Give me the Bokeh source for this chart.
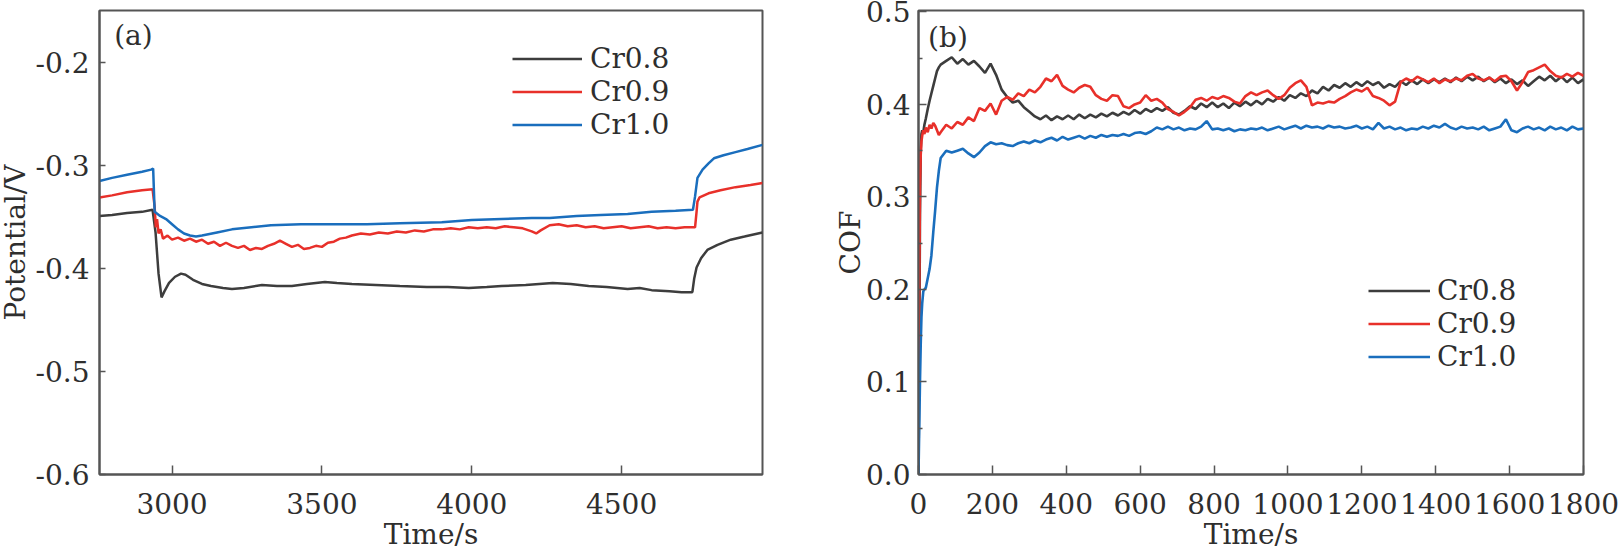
from bokeh.plotting import figure
from bokeh.models import Range1d, FixedTicker, Legend, LegendItem, Label
from bokeh.layouts import row
from bokeh.embed import file_html
from bokeh.resources import INLINE

# ---------------- data : panel (a) open-circuit potential ----------------
series_names = ["Cr0.8", "Cr0.9", "Cr1.0"]

a_cr08_t = [2758, 2800, 2850, 2900, 2935, 2945, 2955, 2965, 2975, 2990,
            3010, 3030, 3045, 3070, 3100, 3130, 3170, 3200, 3240, 3300,
            3350, 3400, 3450, 3510, 3550, 3600, 3680, 3760, 3850, 3920,
            3990, 4050, 4100, 4180, 4270, 4330, 4390, 4450, 4520, 4560,
            4600, 4660, 4700, 4736, 4742, 4750, 4765, 4786, 4820, 4864, 4910, 4970]
a_cr08_v = [-0.349, -0.348, -0.346, -0.345, -0.343, -0.365, -0.405, -0.428, -0.422, -0.414,
            -0.408, -0.405, -0.406, -0.411, -0.415, -0.417, -0.419, -0.420, -0.419, -0.416,
            -0.417, -0.417, -0.415, -0.413, -0.414, -0.415, -0.416, -0.417, -0.418, -0.418,
            -0.419, -0.418, -0.417, -0.416, -0.414, -0.415, -0.417, -0.418, -0.420, -0.419,
            -0.421, -0.422, -0.423, -0.423, -0.410, -0.399, -0.390, -0.382, -0.377, -0.372, -0.369, -0.365]

a_cr09_t = [2758, 2800, 2850, 2900, 2935, 2942, 2946, 2950, 2955, 2962,
            2970, 2985, 3000, 3020, 3040, 3060, 3080, 3100, 3120, 3140,
            3160, 3180, 3200, 3220, 3240, 3260, 3280, 3300, 3320, 3340,
            3360, 3380, 3400, 3420, 3440, 3460, 3480, 3500, 3520, 3540,
            3560, 3580, 3600, 3630, 3660, 3690, 3720, 3750, 3780, 3810,
            3840, 3870, 3900, 3930, 3960, 3990, 4020, 4050, 4080, 4110,
            4140, 4170, 4200, 4215, 4230, 4260, 4290, 4320, 4350, 4380,
            4410, 4440, 4470, 4500, 4530, 4560, 4590, 4620, 4650, 4680,
            4710, 4745, 4750, 4753, 4760, 4790, 4830, 4880, 4930, 4970]
a_cr09_v = [-0.331, -0.329, -0.326, -0.324, -0.323, -0.340, -0.360, -0.352, -0.366, -0.362,
            -0.371, -0.368, -0.372, -0.370, -0.373, -0.371, -0.374, -0.372, -0.376, -0.374,
            -0.378, -0.375, -0.378, -0.380, -0.378, -0.382, -0.380, -0.381, -0.378, -0.376,
            -0.373, -0.376, -0.379, -0.377, -0.381, -0.380, -0.378, -0.379, -0.375, -0.374,
            -0.371, -0.370, -0.368, -0.366, -0.367, -0.365, -0.366, -0.364, -0.365, -0.363,
            -0.364, -0.362, -0.362, -0.361, -0.362, -0.360, -0.361, -0.360, -0.361, -0.359,
            -0.360, -0.361, -0.364, -0.366, -0.363, -0.358, -0.357, -0.359, -0.358, -0.360,
            -0.359, -0.361, -0.360, -0.359, -0.361, -0.360, -0.359, -0.361, -0.360, -0.361,
            -0.360, -0.360, -0.345, -0.335, -0.331, -0.327, -0.324, -0.321, -0.319, -0.317]

a_cr10_t = [2758, 2800, 2850, 2900, 2930, 2937, 2942, 2960, 2980, 3000,
            3020, 3040, 3060, 3080, 3100, 3150, 3200, 3265, 3330, 3430,
            3550, 3650, 3760, 3900, 4000, 4100, 4200, 4260, 4350, 4430,
            4520, 4600, 4680, 4738, 4745, 4753, 4770, 4790, 4808, 4840,
            4880, 4920, 4970]
a_cr10_v = [-0.315, -0.312, -0.309, -0.306, -0.304, -0.303, -0.345, -0.349, -0.352, -0.357,
            -0.362, -0.366, -0.368, -0.369, -0.368, -0.365, -0.362, -0.360, -0.358, -0.357,
            -0.357, -0.357, -0.356, -0.355, -0.353, -0.352, -0.351, -0.351, -0.349, -0.348,
            -0.347, -0.345, -0.344, -0.343, -0.330, -0.312, -0.304, -0.298, -0.293, -0.290,
            -0.287, -0.284, -0.280]

a_xticks = [3000, 3500, 4000, 4500]
a_xtick_labels = ["3000", "3500", "4000", "4500"]
a_yticks = [-0.6, -0.5, -0.4, -0.3, -0.2]
a_ytick_labels = ["-0.6", "-0.5", "-0.4", "-0.3", "-0.2"]
a_xtitle = "Time/s"
a_ytitle = "Potential/V"

# ---------------- data : panel (b) coefficient of friction ----------------
b_t = [0, 2, 4, 6, 8, 10, 13, 16, 20, 25, 30, 35, 40, 45, 50, 55, 60,
       75, 90, 105, 120, 135, 150, 165, 180, 195, 210,
       225, 240, 255, 270, 285, 300, 315, 330, 345, 360,
       375, 390, 405, 420, 435, 450, 465, 480, 495, 510,
       525, 540, 555, 570, 585, 600, 615, 630, 645, 660,
       675, 690, 705, 720, 735, 750, 765, 780, 795, 810,
       825, 840, 855, 870, 885, 900, 915, 930, 945, 960,
       975, 990, 1005, 1020, 1035, 1050, 1065, 1080, 1095, 1110,
       1125, 1140, 1155, 1170, 1185, 1200, 1215, 1230, 1245, 1260,
       1275, 1290, 1305, 1320, 1335, 1350, 1365, 1380, 1395, 1410,
       1425, 1440, 1455, 1470, 1485, 1500, 1515, 1530, 1545, 1560,
       1575, 1590, 1605, 1620, 1635, 1650, 1665, 1680, 1695, 1710,
       1725, 1740, 1755, 1770, 1785, 1800]

b_cr08 = [0.0, 0.12, 0.28, 0.35, 0.368, 0.372, 0.370, 0.378, 0.385, 0.395, 0.404, 0.412, 0.420, 0.428, 0.436, 0.440, 0.443,
          0.447, 0.451, 0.444, 0.449, 0.443, 0.447, 0.441, 0.434, 0.444, 0.432,
          0.416, 0.408, 0.402, 0.404, 0.397, 0.392, 0.387, 0.384, 0.388, 0.383,
          0.387, 0.384, 0.388, 0.384, 0.389, 0.385, 0.389, 0.386, 0.390, 0.387,
          0.391, 0.388, 0.392, 0.389, 0.394, 0.390, 0.395, 0.392, 0.396, 0.393,
          0.397, 0.391, 0.389, 0.393, 0.398, 0.395, 0.401, 0.397, 0.402, 0.397,
          0.401, 0.396, 0.402, 0.398, 0.403, 0.399, 0.404, 0.400, 0.406, 0.403,
          0.408, 0.404, 0.410, 0.407, 0.412, 0.409, 0.415, 0.412, 0.419, 0.415,
          0.421, 0.418, 0.423, 0.419, 0.424, 0.420, 0.425, 0.421, 0.424, 0.418,
          0.422, 0.419, 0.425, 0.421, 0.426, 0.422, 0.427, 0.423, 0.427, 0.424,
          0.428, 0.424, 0.429, 0.425, 0.430, 0.426, 0.430, 0.425, 0.429, 0.424,
          0.428, 0.423, 0.427, 0.422, 0.426, 0.420, 0.425, 0.430, 0.426, 0.431,
          0.425, 0.430, 0.424, 0.429, 0.423, 0.427]

b_cr09 = [0.02, 0.2, 0.31, 0.345, 0.36, 0.366, 0.372, 0.368, 0.375, 0.370, 0.378, 0.374, 0.380, 0.377, 0.372, 0.367, 0.370,
          0.378, 0.374, 0.381, 0.378, 0.386, 0.382, 0.396, 0.393, 0.401, 0.389,
          0.404, 0.408, 0.405, 0.412, 0.409, 0.416, 0.413, 0.419, 0.428, 0.425,
          0.432, 0.420, 0.416, 0.413, 0.418, 0.421, 0.419, 0.410, 0.406, 0.404,
          0.410, 0.409, 0.398, 0.396, 0.400, 0.402, 0.410, 0.404, 0.406, 0.402,
          0.395, 0.392, 0.388, 0.392, 0.397, 0.405, 0.407, 0.404, 0.408, 0.406,
          0.409, 0.407, 0.403, 0.401, 0.409, 0.413, 0.410, 0.413, 0.415, 0.410,
          0.406, 0.410, 0.418, 0.423, 0.426, 0.419, 0.399, 0.402, 0.401, 0.403,
          0.402, 0.406, 0.409, 0.413, 0.416, 0.414, 0.418, 0.409, 0.407, 0.404,
          0.399, 0.403, 0.424, 0.428, 0.425, 0.430, 0.427, 0.424, 0.428, 0.423,
          0.427, 0.425, 0.428, 0.426, 0.431, 0.433, 0.428, 0.426, 0.429, 0.425,
          0.430, 0.431, 0.425, 0.415, 0.424, 0.435, 0.437, 0.440, 0.443, 0.436,
          0.431, 0.429, 0.433, 0.430, 0.434, 0.431]

b_cr10 = [0.0, 0.05, 0.1, 0.14, 0.17, 0.185, 0.198, 0.2, 0.202, 0.212, 0.222, 0.237, 0.262, 0.285, 0.31, 0.328, 0.342,
          0.350, 0.348, 0.350, 0.352, 0.347, 0.343, 0.348, 0.355, 0.359, 0.357,
          0.358, 0.356, 0.355, 0.358, 0.360, 0.358, 0.361, 0.359, 0.362, 0.364,
          0.361, 0.365, 0.362, 0.364, 0.366, 0.363, 0.366, 0.364, 0.367, 0.365,
          0.367, 0.366, 0.368, 0.366, 0.369, 0.370, 0.368, 0.371, 0.375, 0.373,
          0.376, 0.373, 0.375, 0.372, 0.374, 0.373, 0.376, 0.382, 0.373, 0.374,
          0.372, 0.374, 0.371, 0.373, 0.372, 0.374, 0.373, 0.375, 0.372, 0.374,
          0.376, 0.373, 0.375, 0.377, 0.374, 0.377, 0.375, 0.376, 0.374, 0.377,
          0.375, 0.376, 0.374, 0.375, 0.377, 0.374, 0.376, 0.373, 0.380, 0.374,
          0.376, 0.373, 0.375, 0.372, 0.374, 0.373, 0.376, 0.374, 0.377, 0.375,
          0.379, 0.375, 0.373, 0.376, 0.374, 0.375, 0.373, 0.376, 0.372, 0.374,
          0.376, 0.384, 0.372, 0.370, 0.374, 0.376, 0.373, 0.375, 0.372, 0.376,
          0.373, 0.375, 0.372, 0.376, 0.373, 0.374]

b_xticks = [0, 200, 400, 600, 800, 1000, 1200, 1400, 1600, 1800]
b_xtick_labels = ["0", "200", "400", "600", "800", "1000", "1200", "1400", "1600", "1800"]
b_yticks = [0.0, 0.1, 0.2, 0.3, 0.4, 0.5]
b_ytick_labels = ["0.0", "0.1", "0.2", "0.3", "0.4", "0.5"]
b_yminor = [0.05, 0.15, 0.25, 0.35, 0.45]
b_xtitle = "Time/s"
b_ytitle = "COF"

assert len(a_cr08_t) == len(a_cr08_v)
assert len(a_cr09_t) == len(a_cr09_v)
assert len(a_cr10_t) == len(a_cr10_v)
assert len(b_t) == len(b_cr08) == len(b_cr09) == len(b_cr10)

# ---------------- style ----------------
FONT = "DejaVu Serif"
FS = "28px"
TXT = "#2e2e2e"
AX = "#555555"
COLORS = ["#3d3d3d", "#e8302a", "#1a6ebd"]


def style(p, xticks, xlabels, yticks, ylabels, ystand, ytitle_stand, ytitle_lh, yminor=None):
    p.xgrid.visible = False
    p.ygrid.visible = False
    p.outline_line_color = AX
    p.outline_line_width = 2
    p.background_fill_color = "white"
    p.border_fill_color = "white"
    p.xaxis.ticker = FixedTicker(ticks=xticks)
    p.xaxis.major_label_overrides = dict(zip(xticks, xlabels))
    if yminor is None:
        p.yaxis.ticker = FixedTicker(ticks=yticks)
    else:
        p.yaxis.ticker = FixedTicker(ticks=yticks, minor_ticks=yminor)
    p.yaxis.major_label_overrides = dict(zip(yticks, ylabels))
    for ax in (p.xaxis[0], p.yaxis[0]):
        ax.axis_line_color = AX
        ax.axis_line_width = 2
        ax.major_tick_line_color = AX
        ax.major_tick_line_width = 1.5
        ax.major_tick_out = 0
        ax.minor_tick_out = 0
        ax.major_label_text_font = FONT
        ax.major_label_text_font_size = FS
        ax.major_label_text_color = TXT
        ax.axis_label_text_font = FONT
        ax.axis_label_text_font_size = FS
        ax.axis_label_text_font_style = "normal"
        ax.axis_label_text_color = TXT
    # x axis: labels below, title under them
    p.xaxis.major_tick_in = 9
    p.xaxis.minor_tick_line_color = None
    p.xaxis.major_label_standoff = 18
    p.xaxis.major_label_text_line_height = 1.0
    p.xaxis.axis_label_standoff = 1
    p.xaxis.axis_label_text_line_height = 0.9
    # y axis
    p.yaxis.major_label_standoff = ystand
    p.yaxis.axis_label_standoff = ytitle_stand
    p.yaxis.axis_label_text_line_height = ytitle_lh
    if yminor is None:
        p.yaxis.minor_tick_line_color = None
        p.yaxis.major_tick_in = 6
    else:
        p.yaxis.major_tick_in = 8
        p.yaxis.minor_tick_in = 4
        p.yaxis.minor_tick_line_color = AX
        p.yaxis.minor_tick_line_width = 1.5


def add_text(p, x, y, text):
    p.add_layout(Label(x=x, y=y, text=text, text_font=FONT, text_font_size=FS,
                       text_color=TXT, text_align="left", text_baseline="middle"))


def add_legend(p, renderers, loc, glyph_w, standoff, row_h):
    items = [LegendItem(label=n, renderers=[r]) for n, r in zip(series_names, renderers)]
    lg = Legend(items=items, location=loc, orientation="vertical",
                glyph_width=glyph_w, glyph_height=row_h, label_height=row_h,
                label_standoff=standoff, spacing=0, padding=0, margin=0,
                border_line_color=None, background_fill_alpha=0,
                label_text_font=FONT, label_text_font_size=FS, label_text_color=TXT)
    p.add_layout(lg, "center")


# ---------------- panel (a) ----------------
pa = figure(width=830, height=553, output_backend="svg", toolbar_location=None,
            x_range=Range1d(2758, 4970), y_range=Range1d(-0.6, -0.1495),
            min_border_left=102, min_border_right=63, min_border_top=10, min_border_bottom=78,
            x_axis_label=a_xtitle, y_axis_label=a_ytitle,
            margin=(0, 0, 0, -5))
style(pa, a_xticks, a_xtick_labels, a_yticks, a_ytick_labels, 10, 1, 0.8)
ra = []
for t, v, c in zip([a_cr08_t, a_cr09_t, a_cr10_t], [a_cr08_v, a_cr09_v, a_cr10_v], COLORS):
    ra.append(pa.line(t, v, line_color=c, line_width=2.5))
add_legend(pa, ra, (413, 333), 70, 8, 33)
add_text(pa, 2807, -0.1736, "(a)")

# ---------------- panel (b) ----------------
pb = figure(width=794, height=553, output_backend="svg", toolbar_location=None,
            x_range=Range1d(0, 1800), y_range=Range1d(0, 0.5015),
            min_border_left=93, min_border_right=36, min_border_top=10, min_border_bottom=78,
            x_axis_label=b_xtitle, y_axis_label=b_ytitle)
style(pb, b_xticks, b_xtick_labels, b_yticks, b_ytick_labels, 8, -4, 1.2, yminor=b_yminor)
rb = []
for v, c in zip([b_cr08, b_cr09, b_cr10], COLORS):
    rb.append(pb.line(b_t, v, line_color=c, line_width=2.6))
add_legend(pb, rb, (450, 101), 62, 7, 31)
add_text(pb, 26, 0.4725, "(b)")

layout = row(pa, pb)
open("out.html", "w").write(file_html(layout, INLINE))
